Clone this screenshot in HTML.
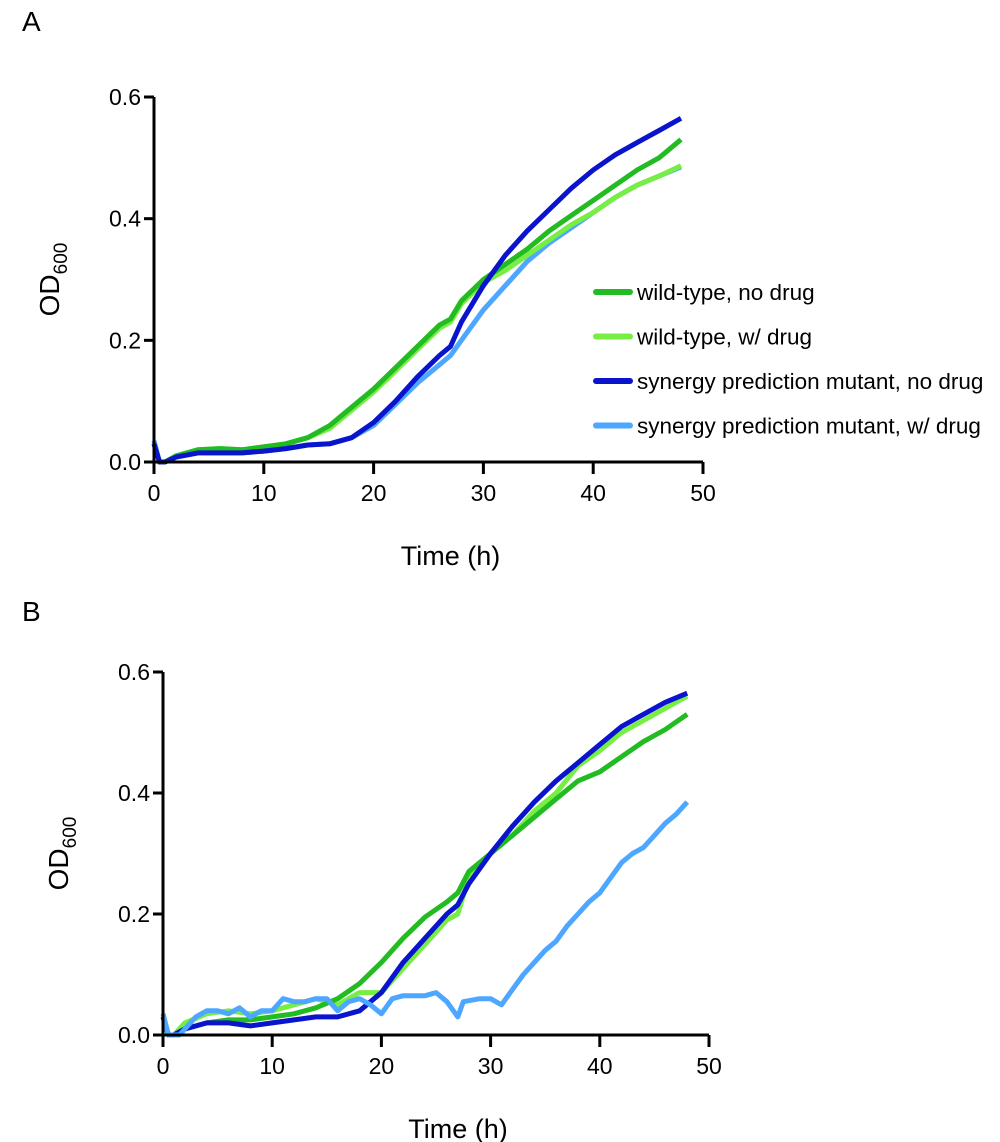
<!DOCTYPE html>
<html><head><meta charset="utf-8"><style>
body{margin:0;background:#fff;}
svg{display:block;font-family:"Liberation Sans",sans-serif;}
</style></head><body>
<svg id="chart" width="1000" height="1142"></svg>
<script>
const xsA = [0,0.5,1,2,4,6,8,10,12,14,16,18,20,22,24,26,27,28,30,32,34,36,38,40,42,44,46,48];
const wtNoDrugA = [0.03,0.0,0.0,0.01,0.02,0.022,0.02,0.025,0.03,0.04,0.06,0.09,0.12,0.155,0.19,0.225,0.235,0.265,0.3,0.325,0.35,0.38,0.405,0.43,0.455,0.48,0.5,0.53];
const wtDrugA = [0.03,0.0,0.0,0.01,0.02,0.022,0.02,0.025,0.03,0.04,0.055,0.085,0.115,0.15,0.185,0.22,0.23,0.26,0.295,0.315,0.34,0.365,0.39,0.41,0.435,0.455,0.47,0.487];
const mutNoDrugA = [0.03,0.0,0.0,0.008,0.015,0.015,0.015,0.018,0.022,0.028,0.03,0.04,0.065,0.1,0.14,0.175,0.19,0.23,0.29,0.34,0.38,0.415,0.45,0.48,0.505,0.525,0.545,0.565];
const mutDrugA = [0.035,0.0,0.0,0.008,0.015,0.015,0.015,0.018,0.022,0.028,0.03,0.04,0.06,0.095,0.13,0.16,0.175,0.2,0.25,0.29,0.33,0.36,0.385,0.41,0.435,0.455,0.47,0.485];

const xsB = [0,0.5,1,2,4,6,8,10,12,14,16,18,20,22,24,26,27,28,30,32,34,36,38,40,42,44,46,48];
const wtNoDrugB = [0.03,0.0,0.0,0.01,0.02,0.025,0.025,0.03,0.035,0.045,0.06,0.085,0.12,0.16,0.195,0.22,0.235,0.27,0.3,0.33,0.36,0.39,0.42,0.435,0.46,0.485,0.505,0.53];
const wtDrugB = [0.03,0.0,0.0,0.02,0.035,0.04,0.035,0.04,0.05,0.06,0.05,0.07,0.07,0.11,0.15,0.19,0.2,0.26,0.3,0.33,0.37,0.4,0.445,0.47,0.5,0.52,0.54,0.56];
const mutNoDrugB = [0.03,0.0,0.0,0.01,0.02,0.02,0.015,0.02,0.025,0.03,0.03,0.04,0.07,0.12,0.16,0.2,0.215,0.25,0.3,0.345,0.385,0.42,0.45,0.48,0.51,0.53,0.55,0.565];
const xsBL = [0,0.5,1.5,3,4,5,6,7,8,9,10,11,12,13,14,15,16,17,18,19,20,21,22,24,25,26,27,27.5,29,30,31,32,33,34,35,36,37,38,39,40,41,42,43,44,45,46,47,48];
const mutDrugB = [0.035,0.0,0.0,0.03,0.04,0.04,0.035,0.045,0.03,0.04,0.04,0.06,0.055,0.055,0.06,0.06,0.04,0.055,0.06,0.05,0.035,0.06,0.065,0.065,0.07,0.055,0.03,0.055,0.06,0.06,0.05,0.075,0.1,0.12,0.14,0.155,0.18,0.2,0.22,0.235,0.26,0.285,0.3,0.31,0.33,0.35,0.365,0.385];

const xTicks = ["0","10","20","30","40","50"];
const yTicks = ["0.0","0.2","0.4","0.6"];
const legendLabels = ["wild-type, no drug","wild-type, w/ drug","synergy prediction mutant, no drug","synergy prediction mutant, w/ drug"];
const colors = ["#22bb22","#77ee44","#0a14cc","#4da6ff"];

const NS="http://www.w3.org/2000/svg";
const svg=document.getElementById('chart');
function mk(tag,attrs,parent){const e=document.createElementNS(NS,tag);for(const k in attrs)e.setAttribute(k,attrs[k]);(parent||svg).appendChild(e);return e;}

function panel(p){
  const g=mk('g',{});
  
  
  const sx=v=>p.x0+(p.x1-p.x0)*v/50;
  const sy=v=>p.y0+(p.y1-p.y0)*v/0.6;
  const pl=mk('text',{x:p.lx,y:p.ly,'font-size':28},g);pl.textContent=p.id;
  
  
  p.series.forEach((s,i)=>{
    const d=s.xs.map((x,j)=>(j?'L':'M')+sx(x).toFixed(1)+' '+sy(s.ys[j]).toFixed(1)).join(' ');
    const path=mk('path',{d:d,fill:'none',stroke:colors[s.c],'stroke-width':5,'stroke-linejoin':'round'},g);
    
    
  });
  const ax=mk('path',{d:`M${p.x0} ${sy(0.6)} L${p.x0} ${p.y0} L${p.x1} ${p.y0}`,stroke:'#000','stroke-width':3,fill:'none'},g);
  
  
  xTicks.forEach((t,i)=>{
    const x=sx(i*10);
    mk('line',{x1:x,y1:p.y0,x2:x,y2:p.y0+12,stroke:'#000','stroke-width':3},g);
    const tx=mk('text',{x:x,y:p.y0+39,'font-size':23,'text-anchor':'middle'},g);tx.textContent=t;
    
    
  });
  yTicks.forEach((t,i)=>{
    const y=sy(i*0.2);
    mk('line',{x1:p.x0-10,y1:y,x2:p.x0,y2:y,stroke:'#000','stroke-width':3},g);
    const ty=mk('text',{x:p.x0-13,y:y+8,'font-size':23,'text-anchor':'end'},g);ty.textContent=t;
    
    
  });
  const xt=mk('text',{x:(p.x0+p.x1)/2+22,y:p.y0+103,'font-size':27,'text-anchor':'middle'},g);xt.textContent='Time (h)';
  
  
  const yc=(p.y0+sy(0.6))/2;
  const yt=mk('text',{transform:`translate(${p.x0-95},${yc}) rotate(-90)`,'font-size':28,'text-anchor':'middle'},g);
  yt.innerHTML='OD<tspan font-size="19" dy="8">600</tspan>';
  
  
}

panel({id:'A',lx:22,ly:31,x0:154,x1:703,y0:462,y1:97,series:[
  {xs:xsA,ys:mutDrugA,c:3,name:'mutant-drug'},
  {xs:xsA,ys:wtDrugA,c:1,name:'wildtype-drug'},
  {xs:xsA,ys:wtNoDrugA,c:0,name:'wildtype-nodrug'},
  {xs:xsA,ys:mutNoDrugA,c:2,name:'mutant-nodrug'}]});
panel({id:'B',lx:22,ly:621,x0:163,x1:709,y0:1035,y1:672,series:[
  {xs:xsB,ys:wtDrugB,c:1,name:'wildtype-drug'},
  {xs:xsB,ys:wtNoDrugB,c:0,name:'wildtype-nodrug'},
  {xs:xsB,ys:mutNoDrugB,c:2,name:'mutant-nodrug'},
  {xs:xsBL,ys:mutDrugB,c:3,name:'mutant-drug'}]});

const lg=mk('g',{});


legendLabels.forEach((l,i)=>{
  const y=292+i*44.5;
  mk('line',{x1:596,y1:y,x2:630,y2:y,stroke:colors[i],'stroke-width':6,'stroke-linecap':'round'},lg);
  const t=mk('text',{x:637,y:y+8,'font-size':22.5},lg);t.textContent=l;
  
  
});
</script>
</body></html>
